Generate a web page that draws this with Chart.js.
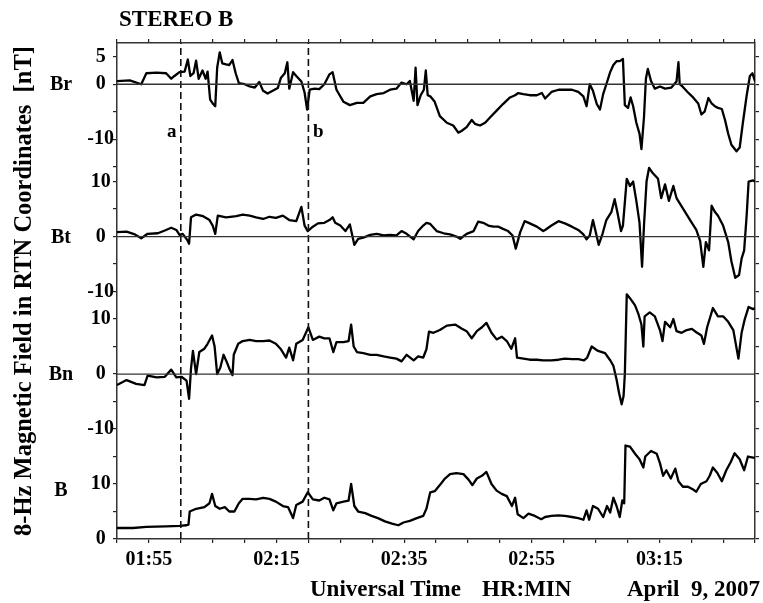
<!DOCTYPE html>
<html>
<head>
<meta charset="utf-8">
<script src="https://cdn.jsdelivr.net/npm/chart.js@4"></script>
<style>
  body { margin: 0; background: #fff; }
  canvas { display: block; }
</style>
</head>
<body>
<canvas id="magChart" width="763" height="603"></canvas>
<script>
// time axis: minutes after 01:50 UT
const START_MIN = 110;
const END_MIN = 210;

// Br
const brT = [0,2,3.8,4.6,6.2,7.7,8.5,9.0,9.8,10.6,11.1,11.5,12.0,12.4,12.8,13.4,13.9,14.2,14.6,15.0,15.4,15.7,16.1,16.5,17.1,17.6,18.1,18.6,19.1,20.0,20.8,21.6,22.3,22.9,23.6,24.4,25.2,25.7,26.3,26.7,27.0,27.6,28.1,28.9,29.4,29.8,30.2,31.0,31.7,32.5,33.3,33.8,34.4,35.5,36.5,37.6,38.6,39.7,40.7,41.8,42.8,43.8,44.6,45.4,45.9,46.5,46.8,47.1,47.6,48.1,48.4,48.7,49.1,49.8,50.6,51.7,52.7,53.5,54.0,54.8,55.6,56.1,56.9,57.7,58.5,59.5,60.5,61.6,62.4,62.9,63.7,64.7,65.8,66.6,67.1,68.1,69.2,70.2,71.3,72.3,73.1,73.6,74.1,74.6,75.2,75.7,76.2,76.7,77.3,77.8,78.3,78.8,79.3,79.6,80.1,80.5,80.9,81.4,81.9,82.2,82.6,82.9,83.2,83.7,84.3,85.1,85.9,86.9,87.7,88.0,88.2,88.7,89.5,90.3,91.1,91.6,92.1,92.7,93.2,93.7,94.2,94.8,95.3,95.8,96.3,97.1,97.6,98.1,98.7,99.2,99.6,100];
const brV = [0.55,0.7,0.0,2.0,2.1,2.0,1.0,1.5,2.2,2.3,4.5,1.5,2.0,4.3,1.0,2.5,1.0,2.3,-2.8,-3.5,-4.0,3.0,5.8,3.8,3.6,3.5,4.4,2.0,0.2,0.0,-0.4,-0.6,0.4,-1.2,-1.7,-1.2,-0.7,1.2,2.0,4.0,-0.8,2.2,1.5,0.5,-1.5,-4.6,-1.0,-0.8,-0.9,0.0,1.8,2.2,-1.0,-3.2,-3.8,-3.4,-3.4,-2.2,-1.8,-1.6,-1.0,-0.8,0.3,0.0,0.6,-3.0,3.0,-3.8,-2.0,-1.0,2.5,-2.0,-2.2,-3.2,-5.8,-7.0,-7.5,-8.8,-8.5,-7.8,-6.5,-7.2,-7.5,-7.0,-6.0,-4.8,-3.6,-2.4,-2.0,-1.6,-1.8,-2.0,-2.0,-1.6,-2.6,-1.4,-1.0,-1.0,-1.0,-1.4,-2.2,-4.0,0.0,-1.2,-3.6,-4.6,-1.8,0.0,2.2,3.5,4.2,4.2,4.6,-3.8,-4.3,-2.4,-4.0,-7.0,-9.0,-11.8,-6.0,1.0,2.8,0.6,-0.8,-0.4,-0.8,-0.6,0.5,4.0,0.0,-0.5,-1.5,-2.4,-3.5,-5.5,-5.0,-2.5,-3.5,-4.0,-4.3,-4.5,-6.5,-9.0,-11.0,-12.2,-11.5,-7.0,-2.0,1.5,2.0,0.5];

// Bt
const btT = [0,1.5,2.8,3.8,4.8,6.4,7.5,8.5,9.3,9.8,10.3,11.0,11.3,11.6,12.4,13.5,14.5,15.0,15.4,15.8,17.1,18.7,19.7,20.8,21.8,22.9,23.9,24.9,26.0,27.0,28.1,28.9,29.4,29.9,30.7,31.5,32.5,33.3,33.8,34.2,35.0,35.8,36.5,37.2,37.8,38.6,39.7,40.7,41.8,42.8,43.8,44.6,45.4,46.5,47.2,48.0,48.5,49.1,50.1,51.2,52.2,53.2,53.8,54.8,55.9,56.6,57.4,58.2,59.0,59.8,60.5,61.3,62.0,62.5,63.2,63.9,64.7,65.8,66.8,67.1,68.1,69.2,70.2,71.3,72.3,73.1,73.6,74.1,74.6,75.2,75.5,76.1,76.7,77.5,78.0,78.5,79.0,79.3,79.9,80.4,80.9,81.4,81.9,82.3,82.6,83.0,83.4,84.0,84.8,85.3,85.9,86.5,87.2,87.7,88.5,89.3,90.1,90.8,91.4,91.9,92.3,92.8,93.2,93.7,94.2,95.0,95.8,96.3,96.9,97.5,97.9,98.3,98.7,99.0,99.7,100];
const btV = [0.8,0.9,0.4,-0.3,0.5,0.6,1.1,1.6,1.2,0.3,0.5,-0.6,-1.3,3.5,4.0,3.7,3.0,2.0,0.5,3.8,3.5,3.7,4.0,3.8,3.5,3.2,3.6,3.4,3.8,3.0,2.8,5.4,2.0,1.0,1.8,2.4,2.5,3.0,3.5,2.5,2.0,1.0,2.2,-1.5,-0.4,-0.2,0.3,0.5,0.2,0.3,0.2,1.0,0.5,-0.5,1.0,2.0,2.5,2.3,1.0,0.6,0.4,0.0,-0.4,0.5,1.0,2.7,2.5,2.0,1.8,1.8,1.4,1.0,0.2,-2.2,0.8,2.8,2.4,1.8,1.0,1.2,2.0,2.8,2.4,1.8,1.2,0.4,-0.5,0.2,3.0,0.0,-1.5,0.5,3.0,4.5,6.8,4.0,1.0,2.0,10.5,9.2,10.0,6.5,2.5,-5.5,2.0,10.0,12.5,11.5,10.5,7.0,9.5,6.5,9.2,7.0,5.5,4.0,2.5,1.2,-0.8,-5.5,-1.0,-2.5,5.6,4.5,3.8,2.0,-1.0,-4.5,-7.5,-7.0,-4.0,-2.5,4.0,10.0,10.2,10.0];

// Bn
const bnT = [0,1.5,3.0,4.3,4.8,6.2,7.5,8.5,9.3,10.1,10.9,11.3,11.6,11.9,12.4,12.9,13.7,14.2,14.9,15.3,15.7,16.2,16.7,17.2,17.6,18.1,18.3,19.0,19.7,20.8,21.8,22.9,23.9,24.9,25.7,26.5,27.0,27.6,28.1,29.1,30.0,30.7,31.7,32.5,33.3,33.9,34.4,35.5,36.3,36.7,37.1,37.6,38.6,39.7,40.7,41.8,42.8,43.8,44.6,45.4,46.5,47.2,48.0,48.5,48.9,49.6,50.6,51.7,53.0,54.0,54.8,55.6,56.4,57.2,57.9,58.7,59.5,60.3,61.1,61.8,62.4,62.7,63.7,64.7,65.8,66.8,68.1,69.2,70.2,71.3,72.3,73.2,73.7,74.4,75.4,76.5,77.3,77.8,78.3,78.7,79.1,79.4,79.6,79.9,80.4,81.2,81.7,82.2,82.5,82.7,83.5,84.3,85.1,85.5,85.9,86.7,87.2,87.7,88.5,89.3,90.1,90.8,91.6,92.0,92.5,93.4,94.2,95.0,95.8,96.6,97.4,97.9,98.4,99.0,99.7,100];
const bnV = [-2.0,-1.1,-1.8,-2.0,-0.3,-0.6,-0.5,0.8,-0.6,-0.5,-1.2,-4.5,1.0,4.2,0.0,4.0,4.6,5.5,7.0,5.0,0.0,1.2,3.5,2.2,1.0,-0.2,3.5,5.5,6.0,6.2,6.0,6.0,6.1,5.5,4.5,3.0,4.8,2.5,5.5,6.2,8.5,6.2,6.8,6.5,6.5,4.0,5.8,5.8,6.0,9.0,5.0,4.0,3.8,3.5,3.5,3.2,3.0,2.8,2.3,3.5,2.5,3.2,3.0,4.5,7.7,7.5,8.0,8.8,9.0,8.3,7.8,6.5,7.8,8.5,9.3,7.5,6.3,6.8,6.0,4.6,6.5,3.0,2.8,2.6,2.6,2.5,2.5,2.6,2.8,2.7,2.7,2.5,3.0,5.0,4.2,3.8,2.5,1.5,-1.0,-3.5,-5.5,-4.0,0.0,14.5,13.8,12.5,11.0,9.0,5.0,10.5,11.2,10.5,8.0,6.0,9.5,8.5,10.0,7.8,7.5,8.0,8.2,7.6,7.0,5.5,8.5,12.0,10.5,10.5,9.5,8.0,2.8,7.5,10.0,12.2,11.8,12.0];

// |B|
const bT = [0,2.5,4.6,7.7,9.8,10.9,11.2,11.4,12.4,13.7,14.5,14.9,15.4,16.1,16.9,17.6,18.4,19.1,19.7,20.8,21.8,22.9,23.9,24.9,26.0,26.8,27.6,28.1,29.1,29.9,30.7,31.7,32.5,33.3,33.9,34.4,35.5,36.3,36.7,37.2,37.8,38.9,39.9,40.9,42.0,43.1,44.1,44.9,45.9,47.0,48.0,48.5,49.1,49.8,50.6,51.4,52.2,53.2,54.3,55.1,55.7,56.4,57.2,57.9,58.7,59.5,60.3,61.1,61.9,62.4,62.8,63.7,64.5,65.5,66.5,67.1,68.1,69.2,70.2,71.3,72.3,73.1,73.6,74.0,74.6,75.4,76.2,76.8,77.3,77.8,78.3,78.8,79.2,79.5,79.7,80.4,81.2,81.9,82.5,82.8,83.7,84.6,85.1,85.6,86.1,86.8,87.5,88.0,88.7,89.5,90.3,90.8,91.5,92.4,92.9,93.4,94.1,94.8,95.5,96.2,96.8,97.6,98.3,98.9,99.7,100];
const bV = [2.0,2.0,2.2,2.3,2.4,2.5,2.6,5.0,5.5,5.8,6.5,8.2,6.0,5.5,5.8,5.0,5.0,6.5,7.3,7.3,7.2,7.5,7.3,6.8,6.0,5.8,3.8,6.2,6.8,8.5,7.2,7.0,7.5,7.2,5.2,6.5,6.8,7.0,10.0,6.0,5.0,4.7,4.2,3.8,3.2,2.8,2.5,3.0,3.3,3.8,4.2,5.5,8.5,8.7,9.8,11.0,11.8,12.0,11.8,10.8,9.8,11.0,11.5,12.2,10.0,8.8,8.2,7.8,6.0,7.5,4.5,3.8,4.6,4.2,3.6,4.0,4.2,4.3,4.2,4.0,3.8,3.5,5.2,3.5,6.0,5.5,4.0,6.0,4.8,7.5,6.0,4.0,7.0,6.5,17.0,16.8,15.5,14.5,13.0,15.0,16.0,15.5,13.8,11.5,12.5,11.0,12.8,10.5,9.5,9.5,9.0,8.6,10.0,10.5,11.5,13.0,12.0,10.5,12.5,14.0,15.6,14.5,12.5,15.0,14.8,14.8];

// event markers (minutes after 01:50)
const eventT = [10, 30];
const eventNames = ['a', 'b'];

// stacked panels on one shared vertical axis
const panelNames = ['Br', 'Bt', 'Bn', 'B'];
const panelOffset = [82.7, 55, 30, 0];
const panelLabelAt = [0, 0, 0, 8.9];
const Y_MAX = 90.2;

const yTickVals = [0,5,10,15,20,25,30,35,40,45,50,55,60,65,67.7,72.7,77.7,82.7,87.7];
const yTickText = ['0','','10','','-10','','0','','10','-10','','0','','10','','-10','','0','5'];

const toPts = (ts, vs, off) => ts.map((t, i) => ({ x: START_MIN + t, y: vs[i] + off }));

const traceStyle = { borderColor: '#000', borderWidth: 2.3, pointRadius: 0, tension: 0, fill: false, borderJoinStyle: 'round' };

const series = [[brT, brV], [btT, btV], [bnT, bnV], [bT, bV]];

let datasets = [];
// zero lines for Br, Bt, Bn
for (let i = 0; i < 3; i++) {
    datasets.push({
        data: [{ x: START_MIN, y: panelOffset[i] }, { x: END_MIN, y: panelOffset[i] }],
        borderColor: '#333', borderWidth: 1.3, pointRadius: 0
    });
}
// dashed event lines
eventT.forEach(t => {
    datasets.push({
        data: [{ x: START_MIN + t, y: 0 }, { x: START_MIN + t, y: Y_MAX }],
        borderColor: '#111', borderWidth: 1.6, borderDash: [7, 4], pointRadius: 0
    });
});
series.forEach((s, i) => {
    datasets.push(Object.assign({ data: toPts(s[0], s[1], panelOffset[i]) }, traceStyle));
});

const SERIF = '"Liberation Serif", "Times New Roman", serif';

const fmtTime = (m) => {
    let h = Math.floor(m / 60), mm = m % 60;
    return String(h).padStart(2, '0') + ':' + String(mm).padStart(2, '0');
};

const axisGrid = { drawOnChartArea: false, drawTicks: true, tickLength: 4, color: '#222', lineWidth: 1.2 };
const axisBorder = { display: true, color: '#333', width: 1.5 };

const setTicks = (s) => { s.ticks = yTickVals.map(v => ({ value: v })); };

const annotate = {
    id: 'annotate',
    afterDraw(chart) {
        const { ctx } = chart;
        const x = chart.scales.x, y = chart.scales.y;
        ctx.save();
        ctx.fillStyle = '#000';
        ctx.textBaseline = 'alphabetic';
        ctx.textAlign = 'left';
        ctx.font = 'bold 23px ' + SERIF;
        ctx.fillText('STEREO B', 119, 25.5);

        ctx.font = 'bold 23px ' + SERIF;
        ctx.fillText('Universal Time', 310, 596);
        ctx.fillText('HR:MIN', 482, 596);
        ctx.fillText('April  9, 2007', 627, 596);

        // panel names
        ctx.font = 'bold 20px ' + SERIF;
        ctx.textAlign = 'center';
        ctx.textBaseline = 'middle';
        panelNames.forEach((n, i) => {
            ctx.fillText(n, 61, y.getPixelForValue(panelOffset[i] + panelLabelAt[i]) + 1);
        });

        // event letters
        ctx.font = 'bold 19px ' + SERIF;
        ctx.textBaseline = 'alphabetic';
        ctx.fillText(eventNames[0], x.getPixelForValue(START_MIN + eventT[0]) - 9, 136.5);
        ctx.fillText(eventNames[1], x.getPixelForValue(START_MIN + eventT[1]) + 10, 136.5);
        ctx.restore();
    }
};

new Chart(document.getElementById('magChart').getContext('2d'), {
    type: 'line',
    data: { datasets: datasets },
    plugins: [annotate],
    options: {
        responsive: false,
        animation: false,
        devicePixelRatio: 1,
        events: [],
        layout: { padding: 0 },
        plugins: { legend: { display: false }, tooltip: { enabled: false } },
        scales: {
            x: {
                type: 'linear', position: 'bottom', min: START_MIN, max: END_MIN,
                afterFit: (s) => { s.height = 64; },
                grid: axisGrid, border: axisBorder,
                ticks: {
                    stepSize: 5, autoSkip: false, maxRotation: 0, padding: 5,
                    color: '#000', font: { family: SERIF, size: 20, weight: 'bold' },
                    callback: (v) => ((v - 115) % 20 === 0 ? fmtTime(v) : '')
                }
            },
            x2: {
                type: 'linear', position: 'top', min: START_MIN, max: END_MIN,
                afterFit: (s) => { s.height = 43; },
                grid: axisGrid, border: axisBorder,
                ticks: { stepSize: 5, display: false }
            },
            y: {
                type: 'linear', position: 'left', min: 0, max: Y_MAX,
                afterBuildTicks: setTicks,
                afterFit: (s) => { s.width = 117; },
                grid: axisGrid, border: axisBorder,
                title: {
                    display: true, text: '8-Hz Magnetic Field in RTN Coordinates  [nT]',
                    color: '#000', font: { family: SERIF, size: 24.5, weight: 'bold' },
                    padding: { top: 10, bottom: 0 }
                },
                ticks: {
                    autoSkip: false, crossAlign: 'center', padding: -1,
                    color: '#000', font: { family: SERIF, size: 20, weight: 'bold' },
                    callback: (v, i) => yTickText[i]
                }
            },
            y2: {
                type: 'linear', position: 'right', min: 0, max: Y_MAX,
                afterBuildTicks: setTicks,
                afterFit: (s) => { s.width = 8; },
                grid: axisGrid, border: axisBorder,
                ticks: { display: false }
            }
        }
    }
});
</script>
</body>
</html>
